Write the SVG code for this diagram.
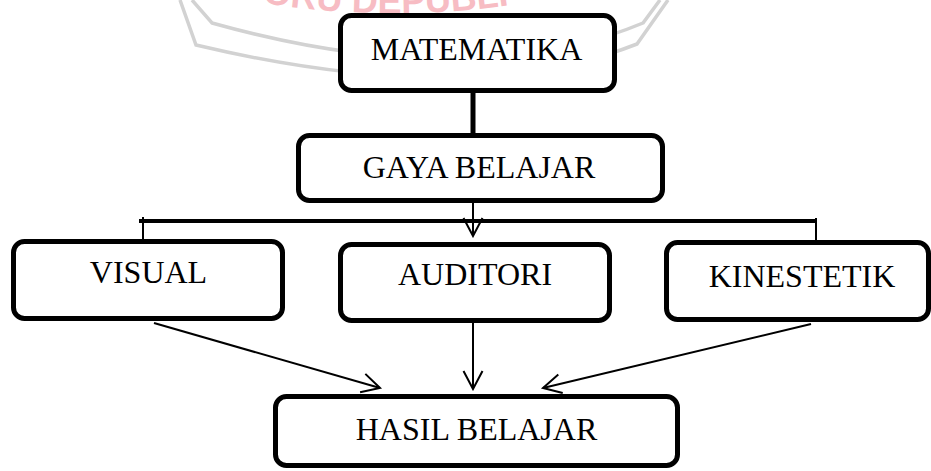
<svg xmlns="http://www.w3.org/2000/svg" width="931" height="471" viewBox="0 0 931 471">
<style>
.box{fill:#fff;stroke:#000;stroke-width:5}
.lbl{font-family:"Liberation Serif","Times New Roman",serif;font-size:32px;fill:#000;text-anchor:middle}
.ln{stroke:#000;stroke-width:2;fill:none}
.wm{stroke:#d2d2d2;stroke-width:3.5;fill:none}
</style>
<defs>
<marker id="open" markerUnits="userSpaceOnUse" viewBox="-20 -11 22 22" markerWidth="22" markerHeight="22" refX="0" refY="0" orient="auto">
<path d="M-18,-9.5 L0,0 L-18,9.5" fill="none" stroke="#000" stroke-width="2"/>
</marker>
<path id="wmarc" d="M262,3 Q420,27 565,-5"/>
</defs>
<rect width="931" height="471" fill="#fff"/>
<g id="watermark">
<path class="wm" d="M180,0 L196,45 Q470,110 637,44 L668,0"/>
<path class="wm" d="M192,0 L212,23 Q470,95 643,23 L660,0"/>
<text font-family="'Liberation Sans',Arial,sans-serif" font-weight="bold" font-size="36" fill="#f7bcc3"><textPath href="#wmarc">ORU DEPUBLI</textPath></text>
</g>
<g id="connectors">
<line x1="473" y1="93" x2="473" y2="135" stroke="#000" stroke-width="5"/>
<line class="ln" x1="473" y1="203" x2="473" y2="236" marker-end="url(#open)"/>
<line x1="139" y1="221" x2="816" y2="221" stroke="#000" stroke-width="4"/>
<line class="ln" x1="143" y1="217" x2="143" y2="240"/>
<line class="ln" x1="816" y1="218" x2="816" y2="241"/>
<line class="ln" x1="154" y1="323" x2="380" y2="388" marker-end="url(#open)"/>
<line class="ln" x1="473" y1="323" x2="473" y2="389" marker-end="url(#open)"/>
<line class="ln" x1="811" y1="324" x2="543" y2="388" marker-end="url(#open)"/>
</g>
<g id="matematika">
<rect class="box" x="340.5" y="15.5" width="274" height="75" rx="11"/>
<text class="lbl" x="476.5" y="60">MATEMATIKA</text>
</g>
<g id="gaya-belajar">
<rect class="box" x="298.5" y="135.5" width="364" height="65" rx="11"/>
<text class="lbl" x="479" y="178">GAYA BELAJAR</text>
</g>
<g id="visual">
<rect class="box" x="13.5" y="241.5" width="269" height="77" rx="11"/>
<text class="lbl" x="148.5" y="283">VISUAL</text>
</g>
<g id="auditori">
<rect class="box" x="340.5" y="244.5" width="269" height="76" rx="11"/>
<text class="lbl" x="475" y="285">AUDITORI</text>
</g>
<g id="kinestetik">
<rect class="box" x="666.5" y="242.5" width="262" height="77" rx="11"/>
<text class="lbl" x="802" y="287">KINESTETIK</text>
</g>
<g id="hasil-belajar">
<rect class="box" x="275.5" y="396.5" width="402" height="69" rx="11"/>
<text class="lbl" x="476.5" y="440">HASIL BELAJAR</text>
</g>
</svg>
